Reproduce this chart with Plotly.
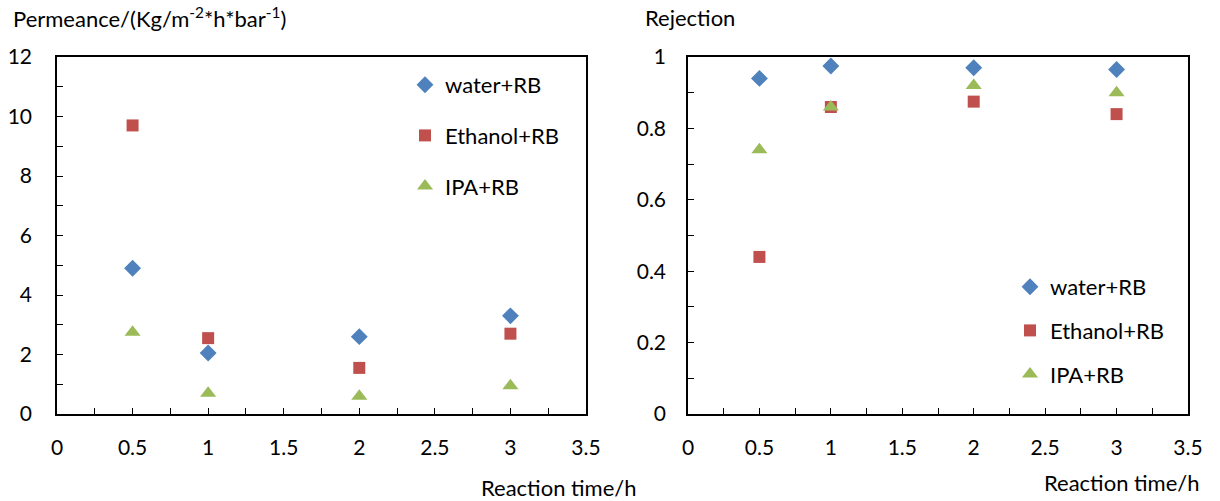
import plotly.graph_objects as go

time_h = [0.5, 1, 2, 3]
series_names = ["water+RB", "Ethanol+RB", "IPA+RB"]
perm_water = [4.9, 2.05, 2.6, 3.3]
perm_ethanol = [9.7, 2.55, 1.55, 2.7]
perm_ipa = [2.75, 0.7, 0.6, 0.95]
rej_water = [0.94, 0.975, 0.97, 0.965]
rej_ethanol = [0.44, 0.86, 0.875, 0.84]
rej_ipa = [0.74, 0.86, 0.92, 0.90]

colors = ["#4F81BD", "#C0504D", "#9BBB59"]
symbols = ["diamond", "square", "triangle-up"]
sizes = [13, 12, 14]
FONT = "Lato"
FS = 21
FT = 22
W, H = 1220, 501

fig = go.Figure()
for i, (name, ys) in enumerate(zip(series_names, [perm_water, perm_ethanol, perm_ipa])):
    fig.add_trace(go.Scatter(x=time_h, y=ys, mode="markers", name=name,
                             marker=dict(color=colors[i], symbol=symbols[i], size=sizes[i]),
                             xaxis="x", yaxis="y", legend="legend", legendgroup="a%d" % i))
for i, (name, ys) in enumerate(zip(series_names, [rej_water, rej_ethanol, rej_ipa])):
    fig.add_trace(go.Scatter(x=time_h, y=ys, mode="markers", name=name,
                             marker=dict(color=colors[i], symbol=symbols[i], size=sizes[i]),
                             xaxis="x2", yaxis="y2", legend="legend2", legendgroup="b%d" % i))

def px(x):
    return x / W

def py(y):
    return 1 - y / H

ydom = [py(414), py(57)]
axis_common = dict(showline=True, linecolor="black", linewidth=1.5, mirror=True, automargin=False,
                   showgrid=False, zeroline=False, ticks="inside", ticklen=6,
                   tickcolor="black", tickwidth=1, tickfont=dict(family=FONT, size=FS, color="black"))
minor_common = dict(ticks="inside", ticklen=6, tickcolor="black")

fig.update_layout(
    width=W, height=H, margin=dict(l=0, r=0, t=0, b=0, autoexpand=False),
    paper_bgcolor="white", plot_bgcolor="white",
    font=dict(family=FONT, size=FT, color="black"),
    xaxis=dict(domain=[px(57), px(586)], range=[0, 3.5], dtick=0.5, anchor="y",
               ticklabelstandoff=14, minor=dict(dtick=0.25, **minor_common), **axis_common),
    yaxis=dict(domain=ydom, range=[0, 12], dtick=2, anchor="x",
               ticklabelstandoff=19, minor=dict(dtick=1, **minor_common), **axis_common),
    xaxis2=dict(domain=[px(688), px(1188)], range=[0, 3.5], dtick=0.5, anchor="y2",
                ticklabelstandoff=14, minor=dict(dtick=0.25, **minor_common), **axis_common),
    yaxis2=dict(domain=ydom, range=[0, 1], dtick=0.2, anchor="x2", tickformat="~g",
                ticklabelstandoff=16, minor=dict(dtick=0.1, **minor_common), **axis_common),
    legend=dict(x=px(405), y=py(64), xanchor="left", yanchor="top", tracegroupgap=19,
                font=dict(family=FONT, size=FT), bgcolor="rgba(0,0,0,0)", itemwidth=30),
    legend2=dict(x=px(1010), y=py(266), xanchor="left", yanchor="top", tracegroupgap=12,
                 font=dict(family=FONT, size=FT), bgcolor="rgba(0,0,0,0)", itemwidth=30),
    annotations=[
        dict(text="Permeance/(Kg/m<sup>-2</sup>*h*bar<sup>-1</sup>)", x=px(11), y=py(18),
             xref="paper", yref="paper", xanchor="left", yanchor="middle", showarrow=False,
             font=dict(family=FONT, size=FT)),
        dict(text="Rejection", x=px(643), y=py(18), xref="paper", yref="paper",
             xanchor="left", yanchor="middle", showarrow=False, font=dict(family=FONT, size=FT)),
        dict(text="Reaction time/h", x=px(639), y=py(487), xref="paper", yref="paper",
             xanchor="right", yanchor="middle", showarrow=False, font=dict(family=FONT, size=FT)),
        dict(text="Reaction time/h", x=px(1202), y=py(482), xref="paper", yref="paper",
             xanchor="right", yanchor="middle", showarrow=False, font=dict(family=FONT, size=FT)),
    ],
)

fig.write_html("out.html")
